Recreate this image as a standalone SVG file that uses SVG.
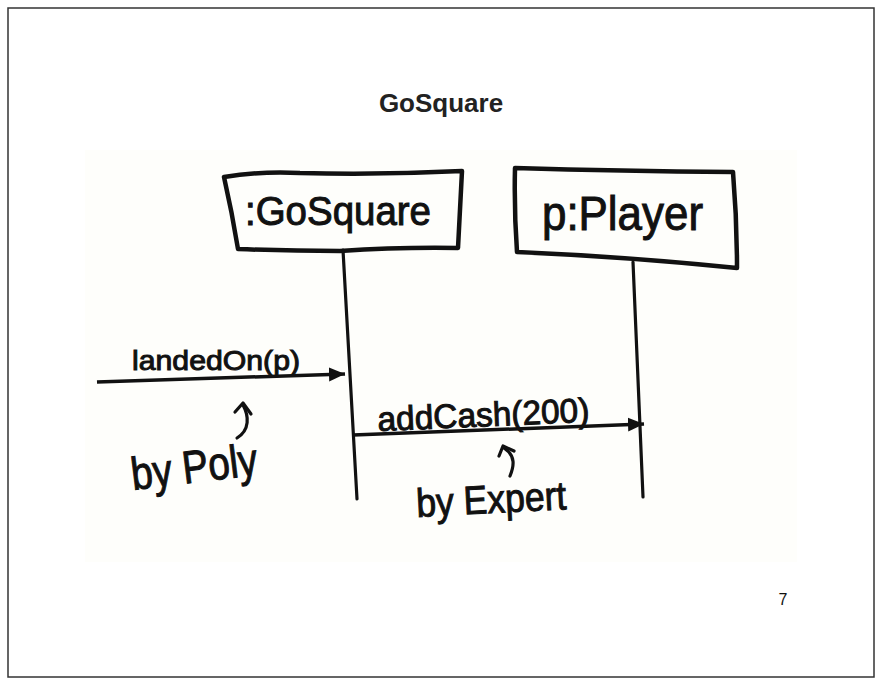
<svg xmlns="http://www.w3.org/2000/svg" width="884" height="681" viewBox="0 0 884 681">
<style>
  .ink { fill: none; stroke: #111; stroke-linecap: round; stroke-linejoin: round; }
  .box { stroke-width: 4.5; }
  .life { stroke-width: 3.2; }
  .msg { stroke-width: 3.5; stroke-linecap: butt; }
  .hook { stroke-width: 3.2; }
  .hand { font-family: "Liberation Sans", Arial, sans-serif; fill: #111; stroke: #111; stroke-width: 1; }
  .title { font-family: "Liberation Sans", Arial, sans-serif; font-weight: bold; font-size: 26px; fill: #222; }
  .page { font-family: "Liberation Sans", Arial, sans-serif; font-size: 16px; fill: #111; }
</style>
<defs>
  <marker id="filled" markerUnits="userSpaceOnUse" markerWidth="18" markerHeight="16" refX="16" refY="8" orient="auto">
    <path d="M0,1 L16,8 L0,15 Z" fill="#111"/>
  </marker>
</defs>
<rect x="0" y="0" width="884" height="681" fill="#fff"/>
<rect x="8" y="8" width="866" height="669" fill="#fff" stroke="#333" stroke-width="1.5"/>
<rect x="85" y="150" width="712" height="412" fill="#fefefb"/>
<text class="title" x="441" y="112" text-anchor="middle">GoSquare</text>

<g id="node-gosquare">
  <path class="ink box" d="M224,177 Q260,171 300,173 Q380,175 462,171 Q460,210 458,248 Q400,247 340,251 Q290,251 238,249 Q232,212 224,177 Z"/>
  <text class="hand" x="245" y="225" font-size="40" textLength="186" lengthAdjust="spacingAndGlyphs">:GoSquare</text>
</g>

<g id="node-player">
  <path class="ink box" d="M515,168 Q620,171 733,172 Q737,220 737,268 Q630,257 517,252 Q514,210 515,168 Z"/>
  <text class="hand" x="542" y="230" font-size="48" textLength="161" lengthAdjust="spacingAndGlyphs">p:Player</text>
</g>

<g id="connectors">
  <path class="ink life" d="M343,250 L357,499"/>
  <path class="ink life" d="M633,262 L643,497"/>
  <path class="ink msg" d="M97,382 L345,374" marker-end="url(#filled)"/>
  <text class="hand" x="132" y="370" font-size="28" textLength="168" lengthAdjust="spacingAndGlyphs">landedOn(p)</text>
  <path class="ink msg" d="M353,435 L644,424" marker-end="url(#filled)"/>
  <text class="hand" x="378" y="431" font-size="34" textLength="212" lengthAdjust="spacingAndGlyphs" transform="rotate(-2.5 378 431)">addCash(200)</text>
</g>

<g id="note-poly">
  <path class="ink hook" d="M243,405 C249,416 250,430 237,438"/>
  <path class="ink hook" d="M235,412 L243,403 L251,414"/>
  <text class="hand" x="133" y="490" font-size="46" textLength="127" lengthAdjust="spacingAndGlyphs" transform="rotate(-7 133 490)">by Poly</text>
</g>

<g id="note-expert">
  <path class="ink hook" d="M504,448 C516,456 514,466 510,476"/>
  <path class="ink hook" d="M499,456 L503,446 L514,451"/>
  <text class="hand" x="417" y="517" font-size="40" textLength="150" lengthAdjust="spacingAndGlyphs" transform="rotate(-3 417 517)">by Expert</text>
</g>

<text class="page" x="783" y="605" text-anchor="middle">7</text>
</svg>
